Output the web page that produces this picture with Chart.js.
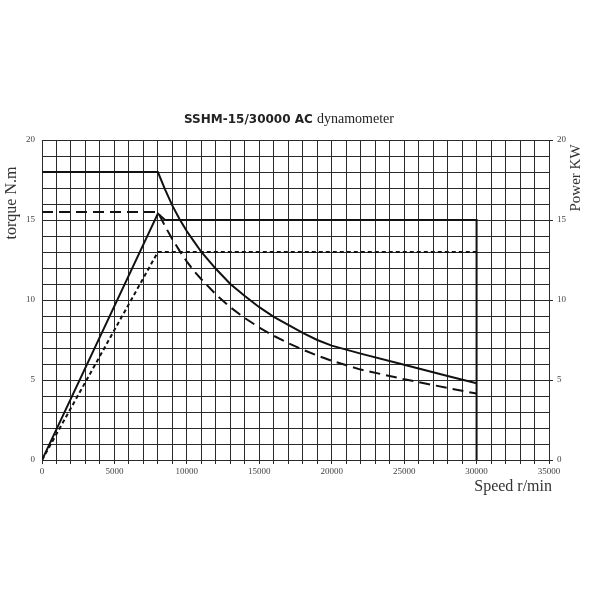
<!DOCTYPE html>
<html><head><meta charset="utf-8">
<script src="https://cdn.jsdelivr.net/npm/chart.js@4/dist/chart.umd.min.js"></script>
<style>html,body{margin:0;padding:0;background:#fff}#wrap{width:600px;height:600px}</style>
</head><body><div id="wrap"><canvas id="c" width="600" height="600"></canvas></div>
<script>
// ---- data ----
const titleBold = "SSHM-15/30000 AC";
const titleRest = "dynamometer";
const xTitle = "Speed r/min";
const yLeftTitle = "torque N.m";
const yRightTitle = "Power KW";

const torqueSpeed = [0, 8000, 8500, 9000, 9500, 10000, 10500, 11000, 12000, 13000, 14000, 15000, 16000, 17000, 18000, 19000, 20000, 22000, 25000, 28000, 30000];
const torqueMax   = [18, 18, 16.9, 15.9, 15.05, 14.3, 13.65, 13.0, 11.95, 11.0, 10.25, 9.55, 8.95, 8.45, 7.95, 7.5, 7.15, 6.65, 5.95, 5.25, 4.8];
const torqueRated = [15.5, 15.5, 14.6, 13.8, 13.07, 12.4, 11.8, 11.3, 10.35, 9.55, 8.87, 8.28, 7.76, 7.3, 6.9, 6.53, 6.2, 5.65, 5.05, 4.5, 4.15];

const powerMaxSpeed = [0, 8000, 8500, 30000, 30000];
const powerMax      = [0, 15.4, 15, 15, 0];
const powerRatedSpeed = [0, 8000, 30000];
const powerRated    = [0, 13, 13];

const xMin = 0, xMax = 35000, xGridStep = 1000, xLabelStep = 5000;
const yMin = 0, yMax = 20, yGridStep = 1, yLabelStep = 5;

const pts = (xs, ys) => xs.map((x, i) => ({x: x, y: ys[i]}));

const serif = "'Liberation Serif', 'DejaVu Serif', serif";
const ink = '#111';
const gridCol = '#2a2a2a';

const textPlugin = {
  id: 'texts',
  afterDraw(chart) {
    const ctx = chart.ctx, a = chart.chartArea;
    ctx.save();
    ctx.fillStyle = '#222';
    ctx.textBaseline = 'middle';
    const f1 = "bold 12px 'DejaVu Sans', 'Noto Sans', sans-serif";
    const f2 = "14px " + serif;
    ctx.font = f1; const w1 = ctx.measureText(titleBold + ' ').width;
    ctx.font = f2; const w2 = ctx.measureText(titleRest).width;
    const cx = 289;
    const x0 = cx - (w1 + w2) / 2;
    ctx.textAlign = 'left';
    ctx.font = f1; ctx.fillText(titleBold + ' ', x0, a.top - 20);
    ctx.font = f2; ctx.fillText(titleRest, x0 + w1, a.top - 21);
    // x title
    ctx.font = "16px " + serif; ctx.fillStyle = '#333';
    ctx.textAlign = 'right';
    ctx.fillText(xTitle, a.right + 3, a.bottom + 27);
    // left title
    ctx.save();
    ctx.translate(a.left - 30, a.top + 63);
    ctx.rotate(-Math.PI / 2);
    ctx.textAlign = 'center';
    ctx.fillText(yLeftTitle, 0, 0);
    ctx.restore();
    // right title
    ctx.font = "15px " + serif;
    ctx.save();
    ctx.translate(a.right + 27, a.top + 38);
    ctx.rotate(-Math.PI / 2);
    ctx.textAlign = 'center';
    ctx.fillText(yRightTitle, 0, 0);
    ctx.restore();
    ctx.restore();
  }
};

const tickFont = {family: serif, size: 9};

new Chart(document.getElementById('c'), {
  type: 'scatter',
  data: {
    datasets: [
      {label: 'Max torque', data: pts(torqueSpeed, torqueMax), yAxisID: 'y', showLine: true,
       borderColor: ink, borderWidth: 2, pointRadius: 0, tension: 0},
      {label: 'Rated torque', data: pts(torqueSpeed, torqueRated), yAxisID: 'y', showLine: true,
       borderColor: ink, borderWidth: 2, borderDash: [11, 6], pointRadius: 0, tension: 0},
      {label: 'Max power', data: pts(powerMaxSpeed, powerMax), yAxisID: 'y2', showLine: true,
       borderColor: ink, borderWidth: 2, pointRadius: 0, tension: 0},
      {label: 'Rated power', data: pts(powerRatedSpeed, powerRated), yAxisID: 'y2', showLine: true,
       borderColor: ink, borderWidth: 2, borderDash: [4, 3], pointRadius: 0, tension: 0}
    ]
  },
  options: {
    responsive: false,
    animation: false,
    layout: {padding: {top: 140, bottom: 100, left: 0, right: 0}},
    plugins: {legend: {display: false}, title: {display: false}, tooltip: {enabled: false}},
    scales: {
      x: {
        type: 'linear', min: xMin, max: xMax,
        afterFit: s => { s.height = 40; },
        grid: {color: gridCol, lineWidth: 1, tickLength: 4, drawTicks: true},
        border: {color: gridCol, width: 1},
        ticks: {stepSize: xGridStep, autoSkip: false, maxRotation: 0, font: tickFont, color: '#444', padding: 2,
                callback: v => (v % xLabelStep === 0 ? String(v) : '')}
      },
      y: {
        type: 'linear', position: 'left', min: yMin, max: yMax,
        afterFit: s => { s.width = 42; },
        grid: {color: gridCol, lineWidth: 1, drawTicks: false},
        border: {color: gridCol, width: 1},
        ticks: {stepSize: yGridStep, autoSkip: false, font: tickFont, color: '#444', padding: 7,
                callback: v => (v % yLabelStep === 0 ? String(v) : '')}
      },
      y2: {
        type: 'linear', position: 'right', min: yMin, max: yMax,
        afterFit: s => { s.width = 51; },
        grid: {drawOnChartArea: false, color: gridCol, tickLength: 4, drawTicks: true},
        border: {color: gridCol, width: 1},
        ticks: {stepSize: yLabelStep, font: tickFont, color: '#444', padding: 4}
      }
    }
  },
  plugins: [textPlugin]
});
</script></body></html>
